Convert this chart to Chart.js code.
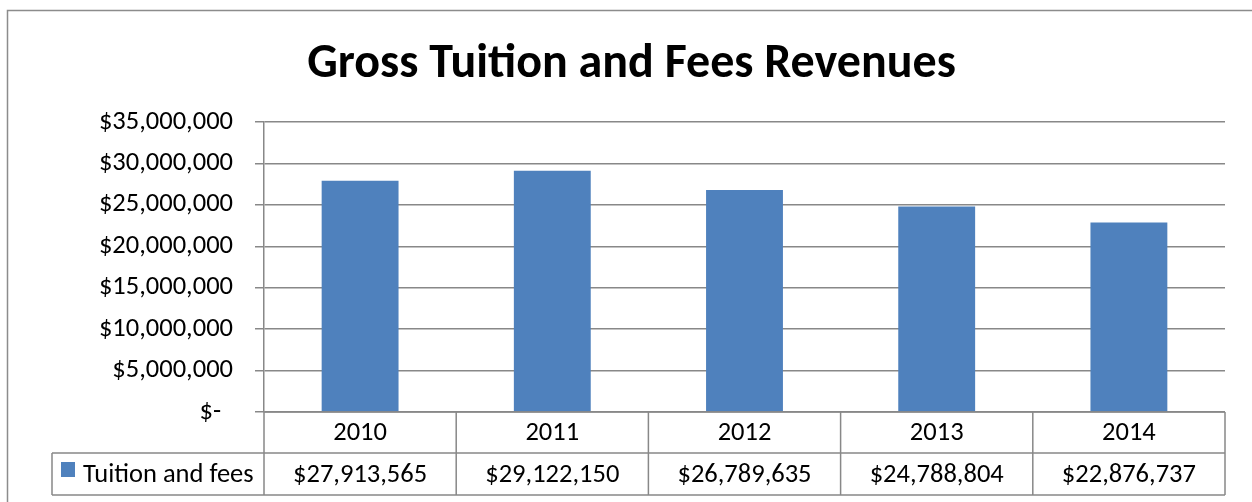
<!DOCTYPE html>
<html>
<head>
<meta charset="utf-8">
<script src="https://cdn.jsdelivr.net/npm/chart.js@4/dist/chart.umd.min.js"></script>
<style>
  html, body { margin: 0; padding: 0; background: #fff; }
  #wrap { width: 1252px; height: 502px; position: relative; }
</style>
</head>
<body>
<div id="wrap"><canvas id="c" width="1252" height="502"></canvas></div>
<script>
const categories = ['2010', '2011', '2012', '2013', '2014'];
const seriesName = 'Tuition and fees';
const tuitionValues = [27913565, 29122150, 26789635, 24788804, 22876737];
const chartTitle = 'Gross Tuition and Fees Revenues';

const FONT = 'Carlito, Calibri, Lato, sans-serif';
const BAR = '#4F81BD';
const LINE = '#888888';
const TEXT_SIZE = 26.5;

function money(v) {
  if (v === 0) return '$-  ';
  return '$' + Math.round(v).toLocaleString('en-US');
}

const frame = {
  id: 'frame',
  beforeDraw(chart) {
    const ctx = chart.ctx;
    ctx.save();
    ctx.fillStyle = '#fff';
    ctx.fillRect(0, 0, chart.width, chart.height);
    ctx.strokeStyle = '#8c8c8c';
    ctx.lineWidth = 1.5;
    ctx.beginPath();
    ctx.moveTo(7.5, chart.height);
    ctx.lineTo(7.5, 10.5);
    ctx.lineTo(chart.width, 10.5);
    ctx.stroke();
    ctx.restore();
  }
};

const dataTable = {
  id: 'dataTable',
  afterDraw(chart) {
    const ctx = chart.ctx;
    const area = chart.chartArea;
    const xs = chart.scales.x;
    const n = categories.length;
    const colW = (area.right - area.left) / n;
    const top = area.bottom;
    const mid = top + 41;
    const bot = top + 83;
    const legLeft = 52;
    ctx.save();
    ctx.strokeStyle = LINE;
    ctx.lineWidth = 1.5;
    ctx.beginPath();
    ctx.moveTo(area.left, top); ctx.lineTo(area.right, top);
    ctx.moveTo(legLeft, mid); ctx.lineTo(area.right, mid);
    ctx.moveTo(legLeft, bot); ctx.lineTo(area.right, bot);
    ctx.moveTo(legLeft, mid); ctx.lineTo(legLeft, bot);
    for (let i = 0; i <= n; i++) {
      const x = area.left + i * colW;
      ctx.moveTo(x, top); ctx.lineTo(x, bot);
    }
    ctx.stroke();
    ctx.fillStyle = '#000';
    ctx.font = TEXT_SIZE + 'px ' + FONT;
    ctx.textAlign = 'center';
    ctx.textBaseline = 'middle';
    categories.forEach((c, i) => {
      const cx = xs.getPixelForValue(i);
      ctx.fillText(c, cx, (top + mid) / 2 + 1);
      ctx.fillText(money(tuitionValues[i]), cx, (mid + bot) / 2 + 1);
    });
    ctx.fillStyle = BAR;
    ctx.fillRect(61, mid + 9, 14, 15);
    ctx.fillStyle = '#000';
    ctx.textAlign = 'left';
    ctx.fillText(seriesName, 83, (mid + bot) / 2 + 1);
    ctx.restore();
  }
};

new Chart(document.getElementById('c'), {
  type: 'bar',
  data: {
    labels: categories,
    datasets: [{
      label: seriesName,
      data: tuitionValues,
      backgroundColor: BAR,
      borderWidth: 0,
      barPercentage: 0.4,
      categoryPercentage: 1.0
    }]
  },
  options: {
    responsive: false,
    animation: false,
    layout: { padding: { left: 38, right: 27, top: 0, bottom: 90 } },
    plugins: {
      legend: { display: false },
      tooltip: { enabled: false },
      title: {
        display: true,
        text: chartTitle,
        color: '#000',
        font: { family: FONT, size: 48, weight: 'bold', lineHeight: 1.2 },
        padding: { top: 36, bottom: 28.4 }
      }
    },
    scales: {
      x: {
        display: false,
        offset: true
      },
      y: {
        min: 0,
        max: 35000000,
        afterFit(s) { s.width = 226; },
        ticks: {
          stepSize: 5000000,
          color: '#000',
          padding: 22,
          font: { family: FONT, size: TEXT_SIZE },
          callback: (v) => money(v)
        },
        grid: {
          color: LINE,
          lineWidth: 1.5,
          tickLength: 9,
          drawTicks: true
        },
        border: { display: true, color: LINE, width: 1.5 }
      }
    }
  },
  plugins: [frame, dataTable]
});
</script>
</body>
</html>
